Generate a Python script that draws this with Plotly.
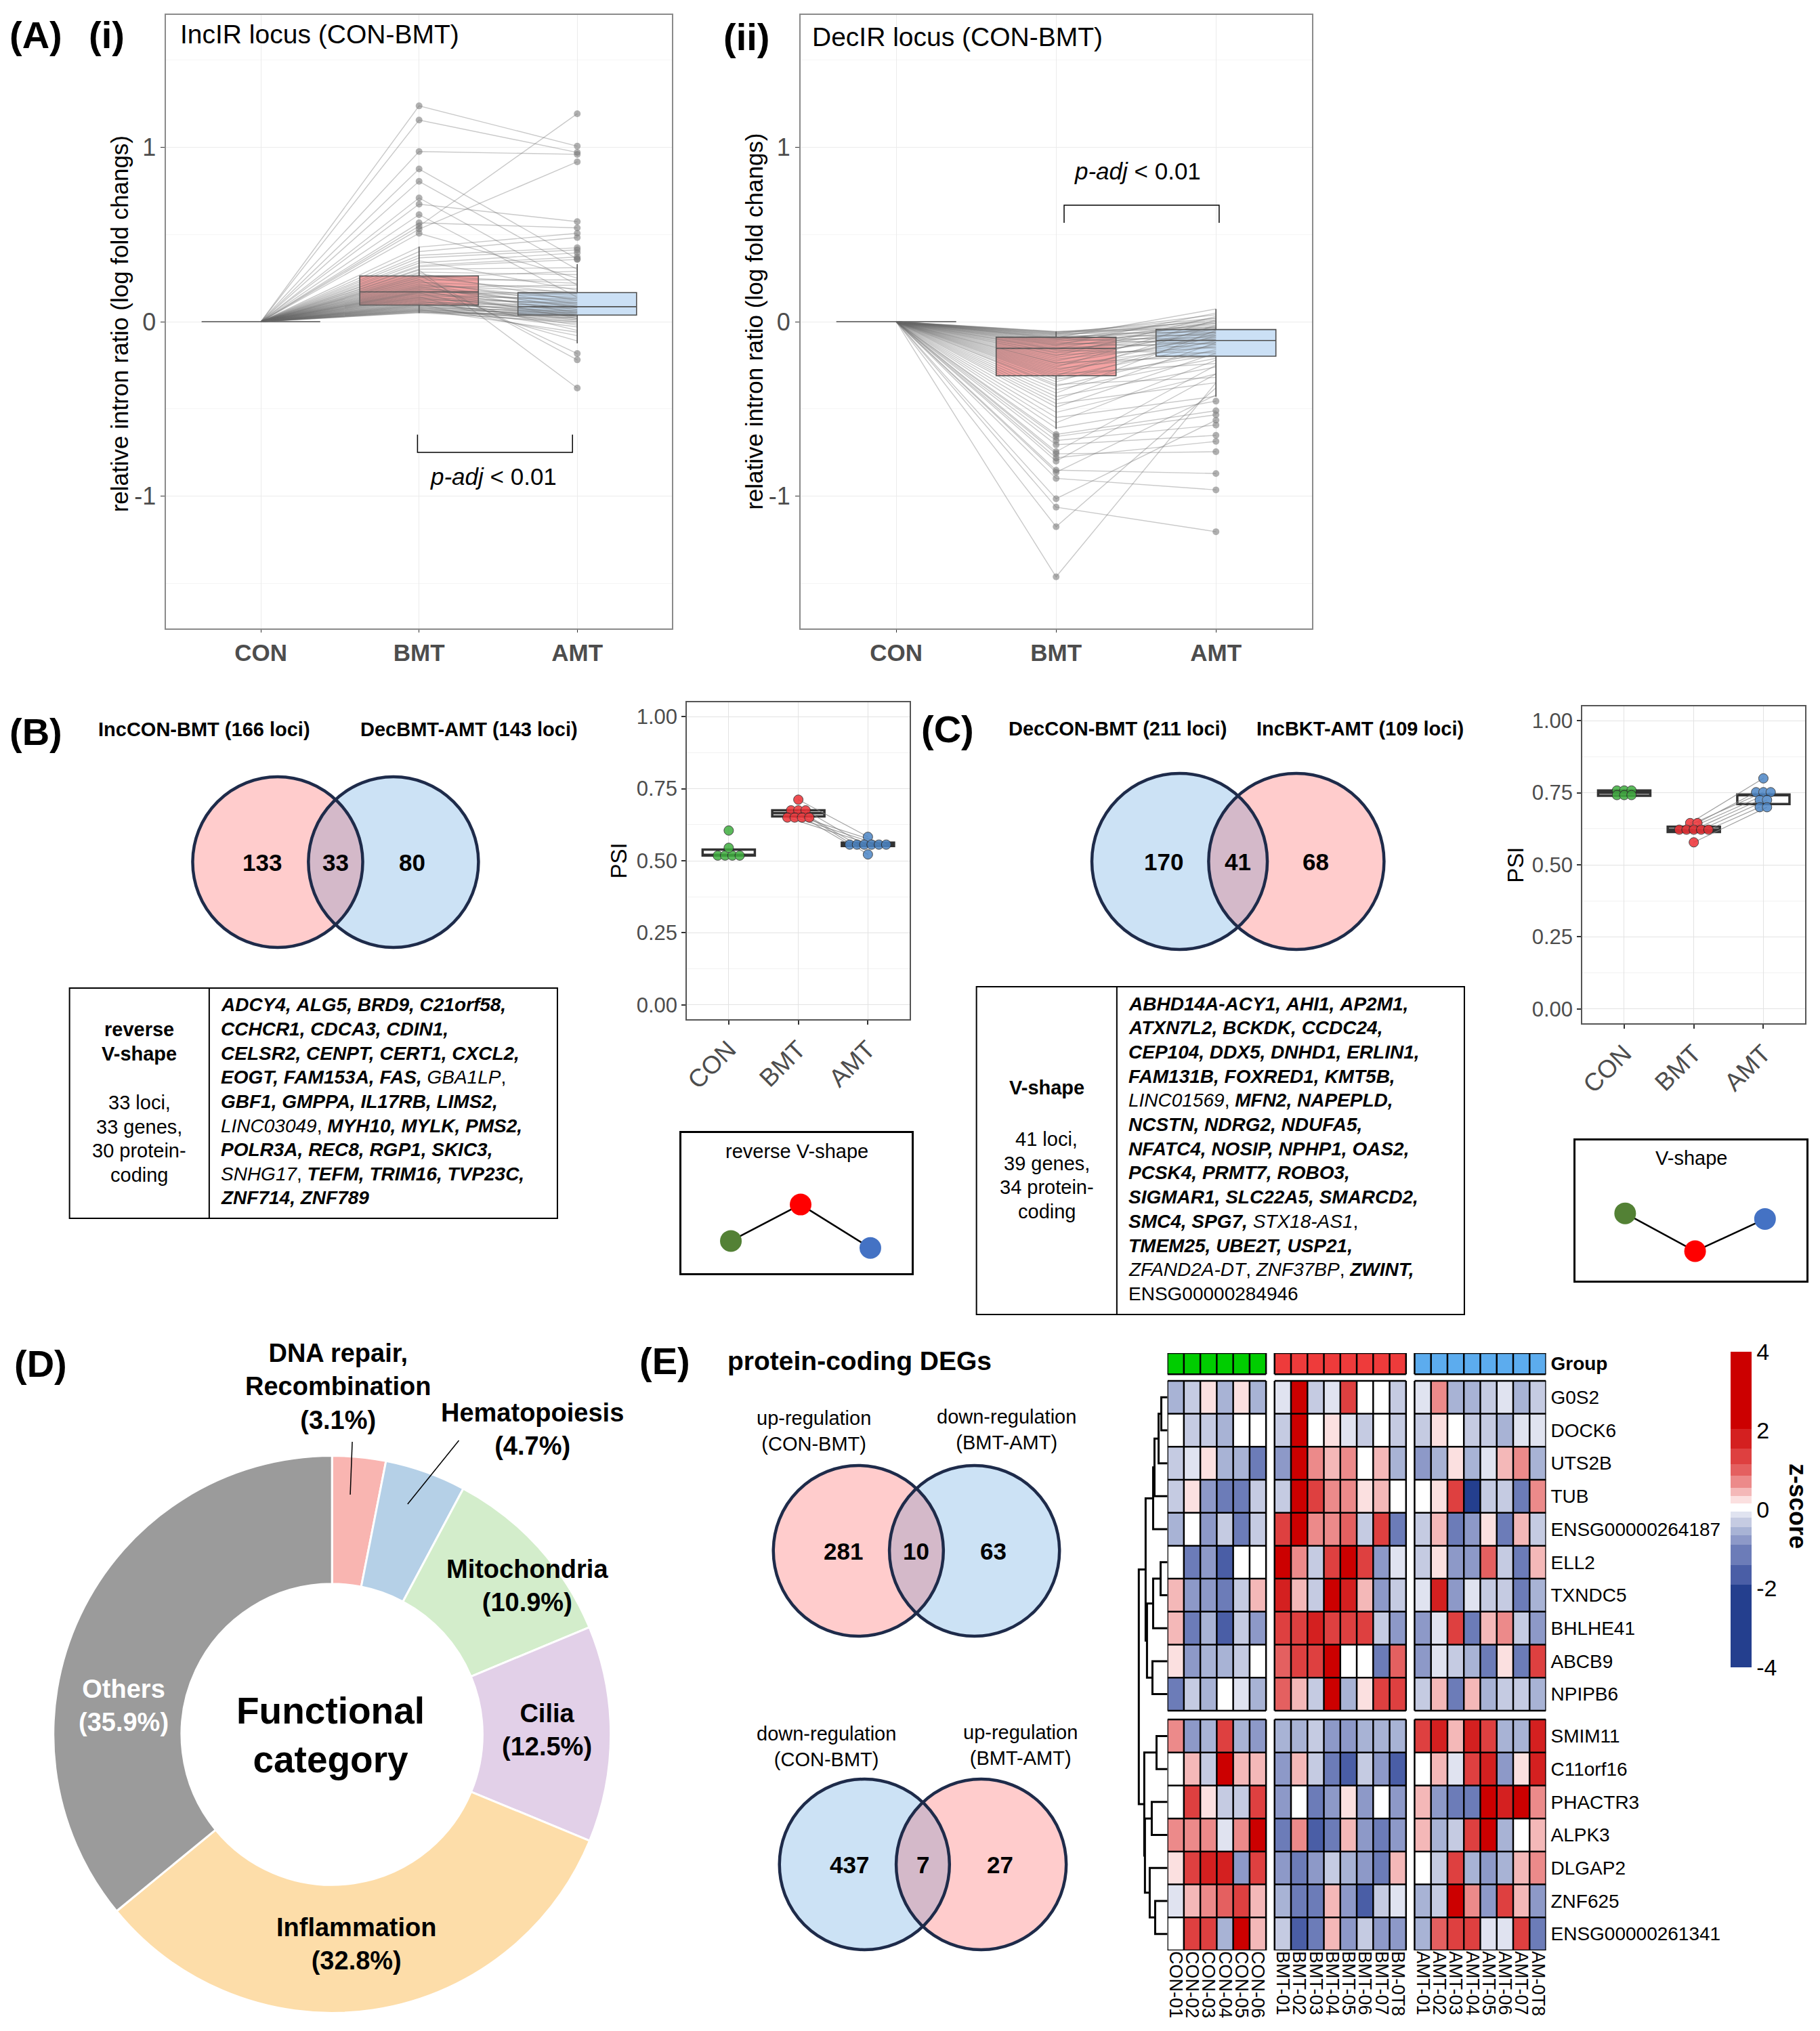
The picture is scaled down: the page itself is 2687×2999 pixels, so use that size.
import math
import plotly.graph_objects as go

W, H = 2687, 2999
FONT = "Liberation Sans, Arial, Helvetica, sans-serif"

# ============================ DATA ============================
groups = ["CON", "BMT", "AMT"]

# Panel A(i): IncIR loci -> (BMT, AMT) relative intron ratio, CON = 0
incir_pairs = [
    (1.238, 1.007), (1.157, 0.971), (0.976, 0.960), (0.876, 0.360), (0.805, 0.300),
    (0.710, 0.210), (0.674, 0.574), (0.614, 0.140), (0.567, 0.538), (0.548, 1.193),
    (0.531, 0.917), (0.507, 0.250), (0.428, 0.507), (0.402, 0.483), (0.381, 0.424),
    (0.366, 0.412), (0.349, 0.180), (0.337, 0.395), (0.322, 0.371), (0.315, 0.357),
    (0.301, 0.310), (0.296, -0.381), (0.284, 0.270), (0.277, 0.120), (0.268, -0.219),
    (0.262, 0.220), (0.255, 0.160), (0.251, 0.290), (0.243, -0.183), (0.239, 0.240),
    (0.231, 0.100), (0.226, 0.190), (0.219, 0.130), (0.214, 0.080), (0.208, 0.170),
    (0.203, 0.050), (0.197, 0.210), (0.193, 0.090), (0.188, 0.150), (0.184, 0.110),
    (0.179, 0.020), (0.175, 0.140), (0.172, 0.070), (0.168, 0.160), (0.165, -0.050),
    (0.161, 0.120), (0.157, 0.090), (0.152, 0.040), (0.149, 0.130), (0.144, -0.110),
    (0.141, 0.100), (0.137, 0.060), (0.133, 0.080), (0.128, 0.030), (0.125, 0.110),
    (0.121, -0.020), (0.117, 0.070), (0.113, 0.050), (0.109, 0.090), (0.106, 0.010),
    (0.102, 0.060), (0.099, -0.080), (0.096, 0.040), (0.093, 0.080), (0.091, 0.020),
    (0.088, 0.050), (0.085, -0.030), (0.083, 0.030), (0.079, 0.060), (0.077, 0.000),
    (0.074, 0.040), (0.071, -0.060), (0.068, 0.020), (0.066, 0.050), (0.063, 0.010),
    (0.061, 0.030), (0.058, -0.010), (0.056, 0.020), (0.053, 0.040), (0.051, 0.000),
]
incir_q1 = [0.0, 0.095, 0.038]
incir_med = [0.0, 0.171, 0.086]
incir_q3 = [0.0, 0.262, 0.167]
incir_lo = [0.0, 0.050, -0.124]
incir_hi = [0.0, 0.430, 0.330]

# Panel A(ii): DecIR loci -> (BMT, AMT)
decir_pairs = [
    (-1.464, -0.350), (-1.176, -0.380), (-1.064, -1.205), (-1.016, -0.565), (-0.899, -0.965),
    (-0.864, -0.420), (-0.852, -0.871), (-0.800, -0.300), (-0.781, -0.687), (-0.758, -0.746),
    (-0.746, -0.250), (-0.706, -0.652), (-0.682, -0.593), (-0.659, -0.534), (-0.647, -0.511),
    (-0.610, -0.456), (-0.580, -0.220), (-0.550, -0.428), (-0.520, -0.300), (-0.490, -0.180),
    (-0.470, -0.350), (-0.450, -0.120), (-0.430, -0.260), (-0.410, -0.050), (-0.390, -0.210),
    (-0.370, -0.160), (-0.360, -0.320), (-0.345, -0.080), (-0.330, -0.190), (-0.320, -0.130),
    (-0.310, -0.020), (-0.300, -0.240), (-0.290, -0.110), (-0.280, -0.070), (-0.270, -0.170),
    (-0.260, 0.010), (-0.250, -0.140), (-0.240, -0.090), (-0.235, -0.200), (-0.225, -0.040),
    (-0.215, -0.120), (-0.205, -0.060), (-0.195, 0.030), (-0.190, -0.150), (-0.180, -0.100),
    (-0.175, -0.030), (-0.165, -0.180), (-0.160, -0.080), (-0.155, 0.000), (-0.148, -0.120),
    (-0.140, -0.060), (-0.135, 0.050), (-0.130, -0.100), (-0.125, -0.040), (-0.120, -0.150),
    (-0.115, -0.010), (-0.110, -0.090), (-0.105, 0.020), (-0.100, -0.070), (-0.097, -0.130),
    (-0.094, -0.030), (-0.091, 0.073), (-0.088, -0.050), (-0.085, -0.110), (-0.081, 0.010),
    (-0.078, -0.080), (-0.075, -0.020), (-0.072, 0.040), (-0.069, -0.060), (-0.066, -0.010),
    (-0.063, 0.020), (-0.060, -0.040), (-0.058, 0.000), (-0.056, -0.030),
]
decir_q1 = [0.0, -0.310, -0.198]
decir_med = [0.0, -0.153, -0.108]
decir_q3 = [0.0, -0.089, -0.045]
decir_lo = [0.0, -0.616, -0.430]
decir_hi = [0.0, -0.056, 0.073]

# Panel B
venn_b_titles = ["IncCON-BMT (166 loci)", "DecBMT-AMT (143 loci)"]
venn_b_counts = [133, 33, 80]
psi_b_con = [0.518, 0.518, 0.518, 0.518, 0.545, 0.605]
psi_b_bmt = [0.712, 0.675, 0.675, 0.675, 0.650, 0.650, 0.650, 0.650]
psi_b_amt = [0.583, 0.556, 0.556, 0.556, 0.556, 0.556, 0.556, 0.522]
psi_b_q1 = [0.518, 0.654, 0.551]
psi_b_med = [0.520, 0.665, 0.556]
psi_b_q3 = [0.539, 0.675, 0.563]
table_b_head = ["reverse", "V-shape"]
table_b_info = ["33 loci,", "33 genes,", "30 protein-", "coding"]
table_b_lines = [
    ["ADCY4", "ALG5", "BRD9", "C21orf58"],
    ["CCHCR1", "CDCA3", "CDIN1"],
    ["CELSR2", "CENPT", "CERT1", "CXCL2"],
    ["EOGT", "FAM153A", "FAS", "GBA1LP"],
    ["GBF1", "GMPPA", "IL17RB", "LIMS2"],
    ["LINC03049", "MYH10", "MYLK", "PMS2"],
    ["POLR3A", "REC8", "RGP1", "SKIC3"],
    ["SNHG17", "TEFM", "TRIM16", "TVP23C"],
    ["ZNF714", "ZNF789"],
]
noncoding_b = {"GBA1LP", "LINC03049", "SNHG17"}
pattern_b_name = "reverse V-shape"
pattern_b = [0.23, 0.49, 0.18]

# Panel C
venn_c_titles = ["DecCON-BMT (211 loci)", "IncBKT-AMT (109 loci)"]
venn_c_counts = [170, 41, 68]
psi_c_con = [0.758, 0.758, 0.758, 0.742, 0.742, 0.742]
psi_c_bmt = [0.645, 0.645, 0.622, 0.622, 0.622, 0.622, 0.622, 0.578]
psi_c_amt = [0.800, 0.752, 0.752, 0.752, 0.725, 0.725, 0.700, 0.700]
psi_c_q1 = [0.740, 0.614, 0.711]
psi_c_med = [0.750, 0.622, 0.742]
psi_c_q3 = [0.758, 0.632, 0.744]
table_c_head = ["V-shape"]
table_c_info = ["41 loci,", "39 genes,", "34 protein-", "coding"]
table_c_lines = [
    ["ABHD14A-ACY1", "AHI1", "AP2M1"],
    ["ATXN7L2", "BCKDK", "CCDC24"],
    ["CEP104", "DDX5", "DNHD1", "ERLIN1"],
    ["FAM131B", "FOXRED1", "KMT5B"],
    ["LINC01569", "MFN2", "NAPEPLD"],
    ["NCSTN", "NDRG2", "NDUFA5"],
    ["NFATC4", "NOSIP", "NPHP1", "OAS2"],
    ["PCSK4", "PRMT7", "ROBO3"],
    ["SIGMAR1", "SLC22A5", "SMARCD2"],
    ["SMC4", "SPG7", "STX18-AS1"],
    ["TMEM25", "UBE2T", "USP21"],
    ["ZFAND2A-DT", "ZNF37BP", "ZWINT"],
    ["ENSG00000284946"],
]
noncoding_c = {"LINC01569", "STX18-AS1", "ZFAND2A-DT", "ZNF37BP"}
plain_c = {"ENSG00000284946"}
pattern_c_name = "V-shape"
pattern_c = [0.48, 0.21, 0.44]

# Panel D
pie_labels = ["DNA repair,<br>Recombination", "Hematopoiesis", "Mitochondria",
              "Cilia", "Inflammation", "Others"]
pie_values = [3.1, 4.7, 10.9, 12.5, 32.8, 35.9]
pie_colors = ["#F9B5B1", "#B5D0E7", "#D3EDCB", "#E2D0E8", "#FDDDA9", "#9B9B9B"]

# Panel E Venns
venn_e_title = "protein-coding DEGs"
venn_e1_labels = ["up-regulation<br>(CON-BMT)", "down-regulation<br>(BMT-AMT)"]
venn_e1_counts = [281, 10, 63]
venn_e2_labels = ["down-regulation<br>(CON-BMT)", "up-regulation<br>(BMT-AMT)"]
venn_e2_counts = [437, 7, 27]

# Panel E heatmap
con_samples = ["CON-01", "CON-02", "CON-03", "CON-04", "CON-05", "CON-06"]
bmt_samples = ["BMT-01", "BMT-02", "BMT-03", "BMT-04", "BMT-05", "BMT-06", "BMT-07", "BM-0T8"]
amt_samples = ["AMT-01", "AMT-02", "AMT-03", "AMT-04", "AMT-05", "AMT-06", "AMT-07", "AM-0T8"]
genes_up = ["G0S2", "DOCK6", "UTS2B", "TUB", "ENSG00000264187", "ELL2", "TXNDC5",
            "BHLHE41", "ABCB9", "NPIPB6"]
genes_down = ["SMIM11", "C11orf16", "PHACTR3", "ALPK3", "DLGAP2", "ZNF625", "ENSG00000261341"]
hm_z = [
    [-0.5, -0.3, 0.25, -0.5, 0.25, -0.5, -0.1, 3.0, -0.3, -0.1, 1.5, 0, 0, -0.3, -0.1, 0.7, -0.5, -0.5, -0.3, -0.1, -0.5, -0.3],
    [0, -0.3, -0.3, -0.5, 0, 0, -0.3, 3.0, 0, 0.25, -0.1, -0.3, 0, -0.3, -0.3, 0.25, 0, -0.3, -0.3, -0.5, -0.1, -0.1],
    [-0.3, -0.1, 0.25, -0.5, -0.6, -1.1, -0.8, 3.0, 0.7, 0.45, 0.6, 0, 0.45, -0.5, -0.8, -0.5, 0.25, -0.5, -0.1, 0.5, 0.8, -0.5],
    [-0.3, 0.25, -0.8, -1.1, -1.1, -0.3, -0.3, 3.0, 1.3, 0.7, 0.6, 0.3, 0.45, 0, 0, 0.25, 1.2, -2.5, -0.3, -0.4, -1.1, 0.7],
    [-0.6, 0, -0.8, -0.4, -1.1, -0.3, 1.5, 3.0, 0.8, 0.8, 0.9, -0.3, 1.5, -1.1, -0.3, 0.45, -1.1, -0.8, 0.25, -1.1, 0.5, -0.3],
    [0, -1.2, -0.8, -1.8, 0, 0, 3.0, 0.8, -0.3, 1.5, 3.0, 1.4, -0.7, -0.1, -0.3, 0.25, -0.8, -0.8, 0.9, -0.4, -1.2, 0.5],
    [0.5, -0.8, -0.8, -1.2, -0.4, 0.5, 1.8, 0.45, -0.4, 3.0, 1.9, 0.5, -0.8, -0.3, -0.1, 1.6, -0.8, -0.1, -0.4, -0.3, -1.2, -0.6],
    [0.5, -1.2, -0.6, -1.7, -0.4, -0.7, 1.5, 1.3, 1.8, 1.5, 1.5, 1.4, -0.3, -0.7, -0.8, -0.1, 1.5, -1.2, 0.5, 0.7, -0.3, -0.7],
    [0.25, -0.8, -0.6, -0.6, -0.4, 0, 0.9, 1.4, 1.2, 3.0, 0, 0, -1.1, 1.1, -0.8, -0.1, -0.4, -0.6, -1.1, 0.25, -1.1, 1.3],
    [-1.1, -0.4, -0.5, 0, -0.1, -0.5, 0.9, 0.45, -0.3, 3.0, -0.5, 0.25, 1.4, 1.3, -0.3, 0.45, -1.1, 0.45, -0.5, -0.4, -0.4, -0.5],
    [0.7, -0.7, -0.5, 1.3, -0.5, -0.7, -0.5, -0.5, -0.3, -0.7, -0.7, -0.6, -0.5, -0.5, 1.4, 1.8, 0.45, 1.9, 1.5, -0.5, -0.5, 1.9],
    [0, 0.45, -0.3, 3.0, 0.5, 0.45, -0.8, 0.4, -0.4, -1.1, -1.5, -0.4, -0.8, -1.5, 0, 0.45, -0.1, 1.4, 1.6, -0.7, 0.25, 1.9],
    [0, 1.4, 0.25, -0.4, -0.4, 1.2, -0.7, 0, -1.1, -0.7, 0.25, -0.7, 0, -0.7, 0.5, -0.8, -1.1, -1.0, 2.3, 1.6, 3.0, 0.7],
    [0.7, 0.6, 0.7, -0.1, 0.8, 3.0, -1.1, 0.8, -1.5, -1.1, 0.5, -0.7, -1.0, -0.8, 0.5, -0.6, -0.4, 1.4, 2.3, -0.6, 0, 0.45],
    [0.25, 1.4, 1.9, 1.8, -0.8, 1.4, -0.8, -1.0, -0.8, -0.4, -0.6, -0.7, -1.0, 0.45, 0, -0.4, 1.5, -0.5, -0.8, -0.5, 0.45, 0.6],
    [-0.1, 0.45, 0.7, 1.1, 1.3, 0.45, -0.6, -1.0, -1.0, 0.45, -0.7, -1.6, -0.4, -0.1, -0.6, -0.4, 3.0, 0.8, -0.8, 1.2, 0.5, -0.7],
    [0, 1.3, 1.4, -0.6, 3.0, 0.45, -0.3, -1.5, -1.0, 0.45, -0.7, -0.4, -0.7, -0.7, -0.6, 1.1, 1.5, 1.5, -0.1, -0.1, 1.4, -1.1],
]
# row dendrogram: (child a, child b, height); new cluster ids start at 17
dendro_merges = [
    (0, 1, 9), (17, 2, 13), (18, 3, 19), (19, 4, 21),
    (5, 6, 10), (21, 7, 21), (8, 9, 22), (22, 23, 30), (20, 24, 32),
    (10, 11, 16), (12, 13, 23), (15, 16, 18), (14, 28, 26), (27, 29, 33), (26, 30, 34),
    (25, 31, 42),
]
hm_bounds = [-4, -1.9, -1.4, -0.9, -0.65, -0.45, -0.2, -0.05, 0.15, 0.35, 0.55, 0.85, 1.15, 1.55, 2.05, 4]
hm_colors = ["#243F8E", "#4A5EA6", "#6C7CB8", "#8D99C8", "#A8B3D5", "#C5CBE2", "#E0E3F0", "#FFFFFF",
             "#FBE0E0", "#F4B8B8", "#EC8A8A", "#E46060", "#DE4040", "#D42020", "#CC0000"]
cbar_ticks = [-4, -2, 0, 2, 4]
group_colors = ["#00CD00", "#EE3B3B", "#5CACEE"]

# ============================ HELPERS ============================
def fx(x):
    return x / W


def fy(y):
    return 1 - y / H


traces, annotations, shapes, axes = [], [], [], {}


def T(text, x, y, size, color="black", xa="center", ya="middle", angle=0, align="center"):
    annotations.append(dict(text=text, x=fx(x), y=fy(y), xref="paper", yref="paper",
                            showarrow=False, xanchor=xa, yanchor=ya, textangle=angle, align=align,
                            font=dict(family=FONT, size=size, color=color)))


def line_px(x0, y0, x1, y1, color="black", width=1.5):
    shapes.append(dict(type="line", xref="paper", yref="paper", x0=fx(x0), y0=fy(y0),
                       x1=fx(x1), y1=fy(y1), line=dict(color=color, width=width)))


def rect_px(x0, y0, x1, y1, color="black", width=2):
    shapes.append(dict(type="rect", xref="paper", yref="paper", x0=fx(x0), y0=fy(y1),
                       x1=fx(x1), y1=fy(y0), line=dict(color=color, width=width)))


def xdom(a, b):
    return [fx(a), fx(b)]


def ydom(top, bottom):
    return [fy(bottom), fy(top)]


# ============================ PANEL A ============================
def panel_a(pairs, q1, med, q3, lo, hi, xn, yn, xd, yd):
    lx, ly = [], []
    for b, a in pairs:
        lx += [1, 2, 3, None]
        ly += [0, b, a, None]
    traces.append(go.Scatter(x=lx, y=ly, mode="lines", xaxis=xn, yaxis=yn, hoverinfo="skip",
                             line=dict(color="rgba(105,105,105,0.36)", width=1.4)))
    fills = ["rgba(0,0,0,0)", "rgba(238,105,105,0.62)", "rgba(165,202,238,0.58)"]
    for i in range(3):
        traces.append(go.Box(x=[i + 1], q1=[q1[i]], median=[med[i]], q3=[q3[i]],
                             lowerfence=[lo[i]], upperfence=[hi[i]], width=0.75,
                             fillcolor=fills[i], line=dict(color="#4F4F4F", width=1.6),
                             whiskerwidth=0, boxpoints=False, xaxis=xn, yaxis=yn, hoverinfo="skip"))
    ox, oy = [], []
    for b, a in pairs:
        for gi, v in ((1, b), (2, a)):
            if v > hi[gi] or v < lo[gi]:
                ox.append(gi + 1)
                oy.append(v)
    traces.append(go.Scatter(x=ox, y=oy, mode="markers", xaxis=xn, yaxis=yn, hoverinfo="skip",
                             marker=dict(size=10, color="rgba(125,125,125,0.6)")))
    key = xn.replace("x", "")
    axes["xaxis" + key] = dict(domain=xd, range=[0.4, 3.6], anchor=yn, tickmode="array",
                               tickvals=[1, 2, 3], ticktext=["<b>%s</b>" % g for g in groups],
                               tickfont=dict(family=FONT, size=35, color="#4D4D4D"),
                               showgrid=True, gridcolor="#EBEBEB", gridwidth=1.2, zeroline=False,
                               showline=True, mirror=True, linecolor="#8A8A8A", linewidth=1.5,
                               ticks="outside", ticklen=4, tickcolor="#333333")
    axes["yaxis" + key] = dict(domain=yd, range=[-1.76, 1.76], anchor=xn, tickmode="array",
                               tickvals=[-1, 0, 1], ticktext=["-1", "0", "1"],
                               tickfont=dict(family=FONT, size=36, color="#4D4D4D"),
                               showgrid=True, gridcolor="#EBEBEB", gridwidth=1.2, zeroline=False,
                               minor=dict(tickmode="array", tickvals=[-1.5, -0.5, 0.5, 1.5],
                                          showgrid=True, gridcolor="#F5F5F5", gridwidth=1),
                               showline=True, mirror=True, linecolor="#8A8A8A", linewidth=1.5,
                               ticks="outside", ticklen=6, tickcolor="#333333")


panel_a(incir_pairs, incir_q1, incir_med, incir_q3, incir_lo, incir_hi, "x", "y",
        xdom(239, 989), ydom(22, 928))
panel_a(decir_pairs, decir_q1, decir_med, decir_q3, decir_lo, decir_hi, "x2", "y2",
        xdom(1179, 1937), ydom(22, 928))
axes["xaxis"] = axes.pop("xaxis")
axes["yaxis"] = axes.pop("yaxis")

T("<b>(A)</b>", 46, 52, 56)
T("<b>(i)</b>", 151, 52, 56)
T("<b>(ii)</b>", 1099, 55, 56)
T("IncIR locus (CON-BMT)", 258, 50, 39, xa="left")
T("DecIR locus (CON-BMT)", 1194, 54, 39, xa="left")
T("relative intron ratio (log fold changs)", 170, 478, 35, angle=-90)
T("relative intron ratio (log fold changs)", 1111, 475, 35, angle=-90)

# significance brackets (data coordinates)
shapes.append(dict(type="path", xref="x", yref="y", line=dict(color="black", width=1.5),
                   path="M 1.99,-0.648 L 1.99,-0.75 L 2.97,-0.75 L 2.97,-0.648"))
annotations.append(dict(text="<i>p-adj</i> < 0.01", x=2.47, y=-0.886, xref="x", yref="y",
                        showarrow=False, font=dict(family=FONT, size=35, color="black")))
shapes.append(dict(type="path", xref="x2", yref="y2", line=dict(color="black", width=1.5),
                   path="M 2.05,0.567 L 2.05,0.668 L 3.02,0.668 L 3.02,0.567"))
annotations.append(dict(text="<i>p-adj</i> < 0.01", x=2.51, y=0.866, xref="x2", yref="y2",
                        showarrow=False, font=dict(family=FONT, size=35, color="black")))

# ============================ VENN ============================
PINK, BLUE, LENS, EDGE = "#FFCCCC", "#CCE2F5", "#D4B9C9", "#1E2B4A"


def venn(c1x, c2x, cy, r, left_col, right_col, counts):
    for cx, col in ((c1x, left_col), (c2x, right_col)):
        shapes.append(dict(type="circle", xref="paper", yref="paper", x0=fx(cx - r), x1=fx(cx + r),
                           y0=fy(cy + r), y1=fy(cy - r), fillcolor=col, line=dict(width=0)))
    d = c2x - c1x
    th = math.acos(d / 2.0 / r)
    pts = []
    n = 48
    for k in range(n + 1):
        a = -th + 2 * th * k / n
        pts.append((c1x + r * math.cos(a), cy + r * math.sin(a)))
    for k in range(n + 1):
        a = math.pi - th + 2 * th * k / n
        pts.append((c2x + r * math.cos(a), cy + r * math.sin(a)))
    path = "M " + " L ".join("%.5f,%.5f" % (fx(px), fy(py)) for px, py in pts) + " Z"
    shapes.append(dict(type="path", xref="paper", yref="paper", path=path, fillcolor=LENS,
                       line=dict(width=0)))
    for cx in (c1x, c2x):
        shapes.append(dict(type="circle", xref="paper", yref="paper", x0=fx(cx - r), x1=fx(cx + r),
                           y0=fy(cy + r), y1=fy(cy - r), line=dict(color=EDGE, width=4.5)))
    T("<b>%d</b>" % counts[0], c1x - 0.18 * r, cy, 35)
    T("<b>%d</b>" % counts[1], (c1x + c2x) / 2, cy, 35)
    T("<b>%d</b>" % counts[2], c2x + 0.22 * r, cy, 35)


# ============================ TABLES ============================
def gene_line(genes, noncoding, plain, last):
    parts = []
    for k, g in enumerate(genes):
        sep = "," if (k < len(genes) - 1 or not last) else ""
        if g in plain:
            parts.append(g + sep)
        elif g in noncoding:
            parts.append("<i>%s</i>%s" % (g, sep))
        else:
            parts.append("<b><i>%s%s</i></b>" % (g, sep))
    return " ".join(parts)


def table(x0, x1, xdiv, y0, y1, head, head_y, info, info_y, lines, line_x, line_y0, step,
          noncoding, plain):
    rect_px(x0, y0, x1, y1, width=2)
    line_px(xdiv, y0, xdiv, y1, width=2)
    cx = (x0 + xdiv) / 2
    for k, t in enumerate(head):
        T("<b>%s</b>" % t, cx, head_y + k * step, 29)
    for k, t in enumerate(info):
        T(t, cx, info_y + k * step, 29)
    for k, genes in enumerate(lines):
        T(gene_line(genes, noncoding, plain, k == len(lines) - 1), line_x, line_y0 + k * step, 28,
          xa="left", align="left")


# ============================ PSI PANELS ============================
def psi_panel(vals, q1, med, q3, xn, yn, xd, yd):
    colors = ["#3FAE3F", "#EE3035", "#4C86C6"]
    for i in range(3):
        traces.append(go.Box(x=[i + 1], q1=[q1[i]], median=[med[i]], q3=[q3[i]],
                             lowerfence=[q1[i]], upperfence=[q3[i]], width=0.75, fillcolor="white",
                             line=dict(color="#333333", width=3.5), whiskerwidth=0, boxpoints=False,
                             xaxis=xn, yaxis=yn, hoverinfo="skip"))
    pos = []
    for i, arr in enumerate(vals):
        xs = []
        for j, v in enumerate(arr):
            same = [k for k, w in enumerate(arr) if w == v]
            r = same.index(j)
            xs.append(i + 1 + (r - (len(same) - 1) / 2.0) * 0.105)
        pos.append(xs)
    lx, ly = [], []
    for j in range(len(vals[1])):
        lx += [pos[1][j], pos[2][j], None]
        ly += [vals[1][j], vals[2][j], None]
    traces.append(go.Scatter(x=lx, y=ly, mode="lines", xaxis=xn, yaxis=yn, hoverinfo="skip",
                             line=dict(color="rgba(130,130,130,0.75)", width=1.2)))
    for i in range(3):
        traces.append(go.Scatter(x=pos[i], y=vals[i], mode="markers", xaxis=xn, yaxis=yn,
                                 hoverinfo="skip", opacity=0.85,
                                 marker=dict(size=14, color=colors[i],
                                             line=dict(color="#2B2B2B", width=1))))
    key = xn.replace("x", "")
    axes["xaxis" + key] = dict(domain=xd, range=[0.4, 3.6], anchor=yn, tickmode="array",
                               tickvals=[1, 2, 3], ticktext=groups, tickangle=-45,
                               tickfont=dict(family=FONT, size=37, color="#4D4D4D"),
                               showgrid=True, gridcolor="#E3E3E3", gridwidth=1.2, zeroline=False,
                               showline=True, mirror=True, linecolor="#555555", linewidth=2,
                               ticks="outside", ticklen=6, tickwidth=2, tickcolor="#333333")
    axes["yaxis" + key] = dict(domain=yd, range=[-0.05, 1.05], anchor=xn, tickmode="array",
                               tickvals=[0, 0.25, 0.5, 0.75, 1.0],
                               ticktext=["0.00", "0.25", "0.50", "0.75", "1.00"],
                               tickfont=dict(family=FONT, size=31, color="#4D4D4D"),
                               showgrid=True, gridcolor="#E3E3E3", gridwidth=1.2, zeroline=False,
                               minor=dict(tickmode="array", tickvals=[0.125, 0.375, 0.625, 0.875],
                                          showgrid=True, gridcolor="#F2F2F2", gridwidth=1),
                               showline=True, mirror=True, linecolor="#555555", linewidth=2,
                               ticks="outside", ticklen=6, tickwidth=2, tickcolor="#333333")


def pattern_panel(name, yvals, xn, yn, xd, yd, title_y):
    traces.append(go.Scatter(x=[0, 1, 2], y=yvals, mode="lines+markers", xaxis=xn, yaxis=yn,
                             hoverinfo="skip", line=dict(color="black", width=2.5),
                             marker=dict(size=32, color=["#538135", "#FF0000", "#4472C4"])))
    key = xn.replace("x", "")
    common = dict(showline=True, mirror=True, linecolor="black", linewidth=3, showgrid=False,
                  zeroline=False, showticklabels=False, ticks="")
    axes["xaxis" + key] = dict(domain=xd, range=[-0.707, 2.593], anchor=yn, **common)
    axes["yaxis" + key] = dict(domain=yd, range=[0, 1], anchor=xn, **common)
    T(name, (xd[0] + xd[1]) / 2 * W, title_y, 29)


# ---- Panel B ----
T("<b>(B)</b>", 46, 1080, 56)
T("<b>%s</b>" % venn_b_titles[0], 296, 1077, 29)
T("<b>%s</b>" % venn_b_titles[1], 688, 1077, 29)
venn(404.5, 576, 1273, 126, PINK, BLUE, venn_b_counts)
table(96, 819, 303, 1459, 1799, table_b_head, 1520, table_b_info, 1628, table_b_lines,
      318, 1484, 35.6, noncoding_b, set())
psi_panel([psi_b_con, psi_b_bmt, psi_b_amt], psi_b_q1, psi_b_med, psi_b_q3, "x3", "y3",
          xdom(1011, 1341), ydom(1037, 1505))
T("PSI", 910, 1271, 33, angle=-90)
pattern_panel(pattern_b_name, pattern_b, "x5", "y5", xdom(1003, 1344), ydom(1673, 1880), 1700)

# ---- Panel C ----
T("<b>(C)</b>", 1397, 1076, 56)
T("<b>%s</b>" % venn_c_titles[0], 1649, 1076, 29)
T("<b>%s</b>" % venn_c_titles[1], 2008, 1076, 29)
venn(1741, 1914, 1272, 130, BLUE, PINK, venn_c_counts)
table(1440, 2163, 1648, 1457, 1941, table_c_head, 1606, table_c_info, 1682, table_c_lines,
      1663, 1482, 35.7, noncoding_c, plain_c)
psi_panel([psi_c_con, psi_c_bmt, psi_c_amt], psi_c_q1, psi_c_med, psi_c_q3, "x4", "y4",
          xdom(2338, 2668), ydom(1043, 1511))
T("PSI", 2238, 1277, 33, angle=-90)
pattern_panel(pattern_c_name, pattern_c, "x6", "y6", xdom(2328, 2670), ydom(1684, 1891), 1710)

# ============================ PANEL D ============================
T("<b>(D)</b>", 53, 2013, 56)
traces.append(go.Pie(values=pie_values, labels=pie_labels, hole=0.54, sort=False,
                     direction="clockwise", rotation=0, textinfo="none", hoverinfo="skip",
                     marker=dict(colors=pie_colors, line=dict(color="white", width=3)),
                     domain=dict(x=xdom(72, 898), y=[fy(2974), fy(2148)]), showlegend=False))
T("<b>Functional<br>category</b>", 483, 2562, 55)
pie_label_pos = [(494, 2047), (782, 2110), (774, 2341), (803, 2554), (521, 2870), (176, 2518)]
pie_label_col = ["black", "black", "black", "black", "black", "white"]
for lab, val, (px, py), col in zip(pie_labels, pie_values, pie_label_pos, pie_label_col):
    T("<b>%s<br>(%.1f%%)</b>" % (lab, val), px, py, 38, color=col)
line_px(515, 2129, 512, 2207, width=1.5)
line_px(673, 2127, 597, 2221, width=1.5)

# ============================ PANEL E (Venns) ============================
T("<b>(E)</b>", 978, 2010, 56)
T("<b>%s</b>" % venn_e_title, 1267, 2009, 39)
T(venn_e1_labels[0], 1199, 2113, 29)
T(venn_e1_labels[1], 1485, 2111, 29)
venn(1265, 1437, 2290, 126, PINK, BLUE, venn_e1_counts)
T(venn_e2_labels[0], 1218, 2579, 29)
T(venn_e2_labels[1], 1505, 2577, 29)
venn(1274, 1447, 2753, 126, BLUE, PINK, venn_e2_counts)

# ============================ PANEL E (Heatmap) ============================
GAP_C, BAR_H, BAR_GAP, GAP_R = 0.52, 0.64, 0.2, 0.27
sample_groups = [con_samples, bmt_samples, amt_samples]
gene_groups = [genes_up, genes_down]
samples = con_samples + bmt_samples + amt_samples
genes = genes_up + genes_down
sample_group_idx = [g for g, s in enumerate(sample_groups) for _ in s]

cols, col_blocks = [], []
xpos, si = 0.0, 0
for g, smp in enumerate(sample_groups):
    if g:
        cols.append((xpos, xpos + GAP_C, None))
        xpos += GAP_C
    col_blocks.append((xpos, len(smp)))
    for _ in smp:
        cols.append((xpos, xpos + 1, si))
        si += 1
        xpos += 1
total_w = xpos
x_edges = [c[0] for c in cols] + [cols[-1][1]]

rows, row_blocks = [], []
ypos, gi = BAR_H + BAR_GAP, 0
for g, gg in enumerate(gene_groups):
    if g:
        rows.append((ypos, ypos + GAP_R, None))
        ypos += GAP_R
    row_blocks.append((ypos, len(gg), 1.0))
    for _ in gg:
        rows.append((ypos, ypos + 1, gi))
        gi += 1
        ypos += 1
total_h = ypos
y_edges = [r[0] for r in rows] + [rows[-1][1]]

Z = [[(hm_z[r[2]][c[2]] if (r[2] is not None and c[2] is not None) else None) for c in cols]
     for r in rows]
cs = []
for i, c in enumerate(hm_colors):
    cs.append([(hm_bounds[i] + 4) / 8.0, c])
    cs.append([(hm_bounds[i + 1] + 4) / 8.0, c])

traces.append(go.Heatmap(z=Z, x=x_edges, y=y_edges, colorscale=cs, zmin=-4, zmax=4,
                         xaxis="x7", yaxis="y7", hoverinfo="skip",
                         colorbar=dict(x=fx(2558), xanchor="left", y=fy(1996), yanchor="top",
                                       len=(2462 - 1996) / H, lenmode="fraction", thickness=31,
                                       thicknessmode="pixels", xpad=0, ypad=0, outlinewidth=0,
                                       tickmode="array", tickvals=cbar_ticks,
                                       ticktext=[str(t) for t in cbar_ticks], ticks="",
                                       tickfont=dict(family=FONT, size=34, color="black"))))
Zg = [[(sample_group_idx[c[2]] if c[2] is not None else None) for c in cols]]
gcs = [[0, group_colors[0]], [0.333, group_colors[0]], [0.333, group_colors[1]],
       [0.667, group_colors[1]], [0.667, group_colors[2]], [1, group_colors[2]]]
traces.append(go.Heatmap(z=Zg, x=x_edges, y=[0, BAR_H], colorscale=gcs, zmin=0, zmax=2,
                         showscale=False, xaxis="x7", yaxis="y7", hoverinfo="skip"))

# cell borders
bx_, by_ = [], []
for (cx0, nc) in col_blocks:
    for (ry0, nr, rh) in [(0.0, 1, BAR_H)] + row_blocks:
        for k in range(nc + 1):
            bx_ += [cx0 + k, cx0 + k, None]
            by_ += [ry0, ry0 + nr * rh, None]
        for j in range(nr + 1):
            bx_ += [cx0, cx0 + nc, None]
            by_ += [ry0 + j * rh, ry0 + j * rh, None]
traces.append(go.Scatter(x=bx_, y=by_, mode="lines", xaxis="x7", yaxis="y7", hoverinfo="skip",
                         line=dict(color="black", width=2.5)))

row_centers = [(r[0] + r[1]) / 2 for r in rows if r[2] is not None]
col_centers = [(c[0] + c[1]) / 2 for c in cols if c[2] is not None]
axes["xaxis7"] = dict(domain=xdom(1723, 2284), range=[0, total_w], anchor="y7", tickmode="array",
                      tickvals=col_centers, ticktext=samples, tickangle=90,
                      tickfont=dict(family=FONT, size=27, color="black"), showgrid=False,
                      zeroline=False, showline=False, ticks="")
axes["yaxis7"] = dict(domain=ydom(1998, 2880), range=[total_h, 0], anchor="x7", side="right",
                      tickmode="array", tickvals=[BAR_H / 2] + row_centers,
                      ticktext=["<b>Group</b>"] + genes,
                      tickfont=dict(family=FONT, size=28, color="black"), showgrid=False,
                      zeroline=False, showline=False, ticks="", ticklabelstandoff=6)

# dendrogram
pos = {i: row_centers[i] for i in range(len(genes))}
hgt = {i: 0.0 for i in range(len(genes))}
dx, dy = [], []
for k, (a, b, h) in enumerate(dendro_merges):
    nid = len(genes) + k
    dx += [hgt[a], h, h, hgt[b], None]
    dy += [pos[a], pos[a], pos[b], pos[b], None]
    pos[nid] = (pos[a] + pos[b]) / 2.0
    hgt[nid] = h
traces.append(go.Scatter(x=dx, y=dy, mode="lines", xaxis="x8", yaxis="y8", hoverinfo="skip",
                         line=dict(color="black", width=3)))
hidden = dict(showgrid=False, zeroline=False, showline=False, showticklabels=False, ticks="")
axes["xaxis8"] = dict(domain=xdom(1676, 1723), range=[46.5, 0], anchor="y8", **hidden)
axes["yaxis8"] = dict(domain=ydom(1998, 2880), range=[total_h, 0], anchor="x8", **hidden)

T("<b>z-score</b>", 2658, 2224, 36, angle=90)

# ============================ FIGURE ============================
fig = go.Figure(data=traces)
fig.update_layout(width=W, height=H, margin=dict(l=0, r=0, t=0, b=0, pad=0),
                  paper_bgcolor="white", plot_bgcolor="white", showlegend=False,
                  hovermode=False, font=dict(family=FONT), annotations=annotations,
                  shapes=shapes, **axes)
fig.write_html("out.html", config={"displayModeBar": False},
               post_script="document.body.style.margin='0px';")
